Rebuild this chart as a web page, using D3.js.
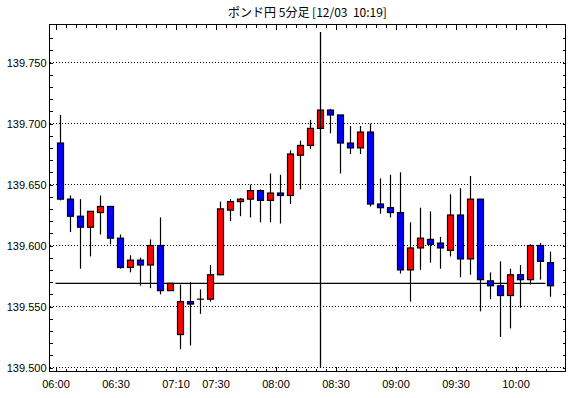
<!DOCTYPE html>
<html>
<head>
<meta charset="utf-8">
<script src="https://cdn.jsdelivr.net/npm/d3@7"></script>
<style>
  body { margin: 0; background: #fff; }
  svg { display: block; }
</style>
</head>
<body>
<div id="chart"></div>
<script>
const title = "ポンド円 5分足 [12/03\u00a0\u00a010:19]"

const times = [
    "06:00", "06:05", "06:10", "06:15", "06:20", "06:25", "06:30", "06:35", "06:40", "06:45",
    "06:50", "06:55", "07:10", "07:15", "07:20", "07:25", "07:30", "07:35", "07:40", "07:45",
    "07:50", "07:55", "08:00", "08:05", "08:10", "08:15", "08:20", "08:25", "08:30", "08:35",
    "08:40", "08:45", "08:50", "08:55", "09:00", "09:05", "09:10", "09:15", "09:20", "09:25",
    "09:30", "09:35", "09:40", "09:45", "09:50", "09:55", "10:00", "10:05", "10:10", "10:15"
]
const open = [
    139.684, 139.638, 139.624, 139.615, 139.627, 139.632, 139.606, 139.582, 139.588, 139.584,
    139.600, 139.563, 139.527, 139.554, 139.556, 139.556, 139.576, 139.629, 139.636, 139.638,
    139.645, 139.637, 139.643, 139.641, 139.674, 139.682, 139.696, 139.711, 139.707, 139.684,
    139.680, 139.693, 139.634, 139.631, 139.627, 139.580, 139.598, 139.605, 139.602, 139.596,
    139.625, 139.589, 139.638, 139.571, 139.567, 139.559, 139.576, 139.572, 139.600, 139.586
]
const high = [
    139.707, 139.641, 139.638, 139.628, 139.641, 139.632, 139.609, 139.592, 139.590, 139.605,
    139.623, 139.569, 139.568, 139.570, 139.564, 139.584, 139.636, 139.638, 139.639, 139.650,
    139.646, 139.659, 139.658, 139.678, 139.686, 139.703, 139.711, 139.712, 139.707, 139.698,
    139.698, 139.700, 139.655, 139.658, 139.660, 139.619, 139.631, 139.628, 139.607, 139.642,
    139.647, 139.657, 139.638, 139.578, 139.587, 139.581, 139.584, 139.601, 139.602, 139.595
]
const low = [
    139.637, 139.611, 139.581, 139.591, 139.609, 139.601, 139.581, 139.578, 139.567, 139.565,
    139.560, 139.563, 139.515, 139.518, 139.544, 139.554, 139.576, 139.620, 139.624, 139.623,
    139.619, 139.619, 139.618, 139.634, 139.646, 139.679, 139.696, 139.692, 139.659, 139.675,
    139.675, 139.632, 139.626, 139.623, 139.577, 139.554, 139.580, 139.586, 139.581, 139.591,
    139.574, 139.576, 139.546, 139.556, 139.525, 139.532, 139.549, 139.568, 139.572, 139.558
]
const close = [
    139.638, 139.624, 139.615, 139.628, 139.632, 139.606, 139.582, 139.588, 139.584, 139.600,
    139.563, 139.569, 139.554, 139.552, 139.556, 139.576, 139.630, 139.636, 139.638, 139.645,
    139.637, 139.643, 139.641, 139.675, 139.682, 139.696, 139.711, 139.707, 139.684, 139.680,
    139.693, 139.634, 139.631, 139.627, 139.580, 139.598, 139.606, 139.601, 139.598, 139.625,
    139.589, 139.638, 139.572, 139.567, 139.559, 139.576, 139.572, 139.600, 139.587, 139.567
]
const xTickLabels = ["06:00", "06:30", "07:10", "07:30", "08:00", "08:30", "09:00", "09:30", "10:00"]
const yTickLabels = [139.500, 139.550, 139.600, 139.650, 139.700, 139.750]
const currentPrice = 139.569
const cursorTime = "08:20"

const render = () => {
    const width = 570
    const height = 398
    const frame = { left: 49.5, right: 565.5, top: 24.5, bottom: 371.5 }
    const font = "'Liberation Sans', Arial, sans-serif"

    const candles = times.map((t, i) => ({ t, o: open[i], h: high[i], l: low[i], c: close[i] }))

    const svg = d3.select("#chart")
        .append("svg")
        .attr("width", width)
        .attr("height", height)

    const xScale = d3.scaleBand()
        .domain(times)
        .range([55.5, 555.5])
    const xEdge = d3.scalePoint()
        .domain(times)
        .range([55.5, 545.5])
    const xMid = (t) => xScale(t) + xScale.bandwidth() / 2

    const yScale = d3.scaleLinear()
        .domain([139.5, 139.75])
        .range([367.5, 62.5])

    svg.append("text")
        .attr("x", (frame.left + frame.right) / 2)
        .attr("y", 17)
        .attr("text-anchor", "middle")
        .style("font-family", "'Noto Sans CJK JP', sans-serif")
        .style("font-size", "12px")
        .style("white-space", "pre")
        .text(title)

    // dotted grid
    svg.append("g")
        .selectAll("line")
        .data(yTickLabels)
        .join("line")
        .attr("x1", frame.left)
        .attr("x2", frame.right)
        .attr("y1", d => yScale(d))
        .attr("y2", d => yScale(d))
        .attr("stroke", "#000")
        .attr("stroke-dasharray", "1,2")
        .attr("shape-rendering", "crispEdges")

    const yMinor = d3.range(0, 28).map(i => 139.5 + i * 0.01)
    const yFmt = d => yTickLabels.some(v => Math.abs(v - d) < 1e-6) ? d3.format(".3f")(d) : ""

    const yAxisLeft = d3.axisLeft(yScale)
        .tickValues(yMinor)
        .tickSizeInner(-3)
        .tickSizeOuter(0)
        .tickPadding(3)
        .tickFormat(yFmt)
    const gLeft = svg.append("g")
        .attr("transform", `translate(${frame.left},0)`)
        .call(yAxisLeft)
    gLeft.select(".domain").remove()
    gLeft.selectAll("text")
        .style("font-family", font)
        .style("font-size", "11px")
        .attr("fill", "#000")

    const yAxisRight = d3.axisRight(yScale)
        .tickValues(yMinor)
        .tickSizeInner(-3)
        .tickSizeOuter(0)
        .tickFormat("")
    const gRight = svg.append("g")
        .attr("transform", `translate(${frame.right},0)`)
        .call(yAxisRight)
    gRight.select(".domain").remove()

    const isMajor = t => xTickLabels.includes(t)

    const xAxisBottom = d3.axisBottom(xEdge)
        .tickValues(times)
        .tickSizeInner(-3)
        .tickSizeOuter(0)
        .tickPadding(9)
        .tickFormat(t => isMajor(t) ? t : "")
    const gBottom = svg.append("g")
        .attr("transform", `translate(0,${frame.bottom})`)
        .call(xAxisBottom)
    gBottom.select(".domain").remove()
    gBottom.selectAll(".tick line")
        .attr("y2", t => isMajor(t) ? -5 : -3)
    gBottom.selectAll("text")
        .style("font-family", font)
        .style("font-size", "11px")
        .attr("fill", "#000")

    const xAxisTop = d3.axisTop(xEdge)
        .tickValues(times)
        .tickSizeInner(-3)
        .tickSizeOuter(0)
        .tickFormat("")
    const gTop = svg.append("g")
        .attr("transform", `translate(0,${frame.top})`)
        .call(xAxisTop)
    gTop.select(".domain").remove()
    gTop.selectAll(".tick line")
        .attr("y2", t => isMajor(t) ? 5 : 3)

    svg.selectAll(".tick line").attr("shape-rendering", "crispEdges")

    svg.append("rect")
        .attr("x", frame.left)
        .attr("y", frame.top)
        .attr("width", frame.right - frame.left)
        .attr("height", frame.bottom - frame.top)
        .attr("fill", "none")
        .attr("stroke", "#000")
        .attr("shape-rendering", "crispEdges")

    // current price and cursor
    svg.append("line")
        .attr("x1", xEdge(times[0]))
        .attr("x2", xEdge(times[times.length - 1]))
        .attr("y1", yScale(currentPrice))
        .attr("y2", yScale(currentPrice))
        .attr("stroke", "#000")
        .attr("stroke-width", 1.3)

    const candleGroup = svg.append("g")

    candleGroup.selectAll("line.wick")
        .data(candles)
        .join("line")
        .attr("class", "wick")
        .attr("x1", d => xMid(d.t))
        .attr("x2", d => xMid(d.t))
        .attr("y1", d => yScale(d.h))
        .attr("y2", d => yScale(d.l))
        .attr("stroke", "#000")
        .attr("stroke-width", 1.2)

    candleGroup.selectAll("rect.body")
        .data(candles.filter(d => d.o !== d.c))
        .join("rect")
        .attr("class", "body")
        .attr("x", d => xMid(d.t) - 3)
        .attr("width", 6)
        .attr("y", d => yScale(Math.max(d.o, d.c)))
        .attr("height", d => Math.abs(yScale(d.o) - yScale(d.c)))
        .attr("fill", d => d.c > d.o ? "#ff0000" : "#0000ff")
        .attr("stroke", "#000")
        .attr("stroke-width", 1.2)

    candleGroup.selectAll("line.doji")
        .data(candles.filter(d => d.o === d.c))
        .join("line")
        .attr("class", "doji")
        .attr("x1", d => xMid(d.t) - 3.5)
        .attr("x2", d => xMid(d.t) + 3.5)
        .attr("y1", d => yScale(d.o))
        .attr("y2", d => yScale(d.o))
        .attr("stroke", "#000")
        .attr("stroke-width", 1.2)

    svg.append("line")
        .attr("x1", xMid(cursorTime))
        .attr("x2", xMid(cursorTime))
        .attr("y1", yScale(139.775))
        .attr("y2", yScale(139.5))
        .attr("stroke", "#000")
        .attr("stroke-width", 1.3)
}

render()
</script>
</body>
</html>
